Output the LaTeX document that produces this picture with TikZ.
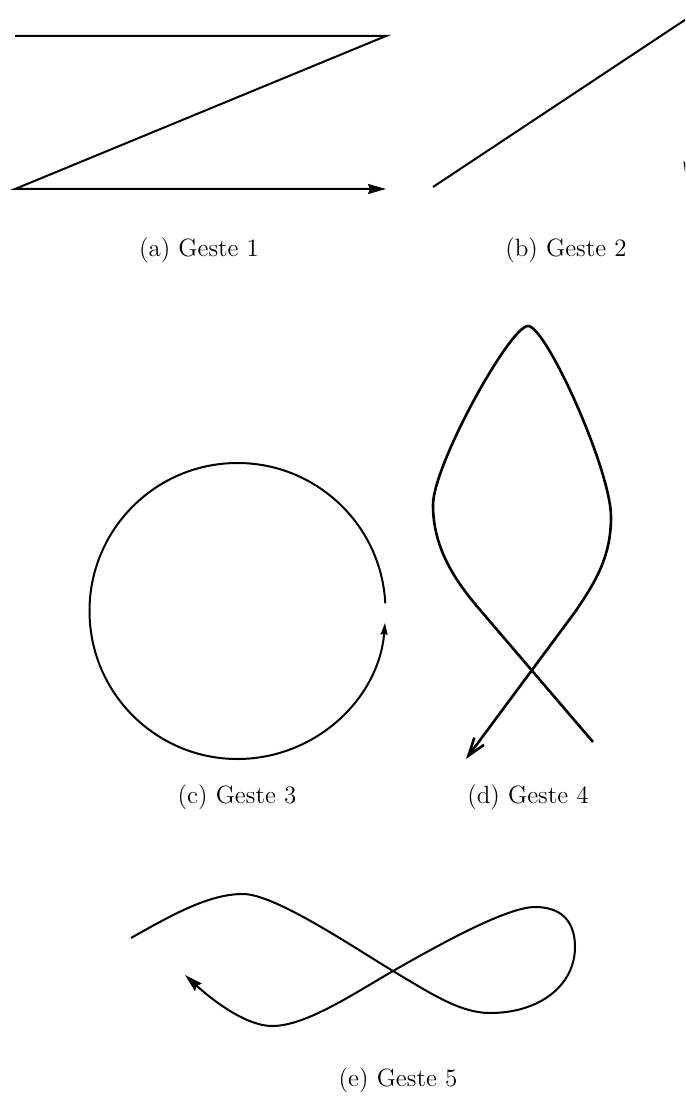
\documentclass[tikz,border=0pt]{standalone}
\usepackage{tikz}
\usetikzlibrary{arrows.meta}

\begin{document}
\begin{tikzpicture}[x=0.5pt, y=-0.5pt,
   geste/.style={line width=1pt},
   pointe/.style={-{Stealth[length=9pt, width=5pt, inset=1pt]}},
   petite/.style={-{Stealth[length=6pt, width=3.5pt, inset=0.8pt]}},
   barbe/.style={-{Straight Barb[length=9pt, width=6pt]}},
   legende/.style={font=\fontsize{12.5}{15}\selectfont, inner sep=0pt}]

  \useasboundingbox (0,0) rectangle (685,1101);

  % (a) zigzag
  \draw[geste, pointe] (15,36) -- (386,36) -- (15,189) -- (386,189);
  \node[legende] (la) at (199,250) {(a) Geste 1};

  % (b) only partly inside the page
  \begin{scope}
    \clip (0,0) rectangle (685,1101);
    \draw[geste, pointe] (433,187) -- (712,2) -- (686,180);
  \end{scope}
  \node[legende] (lb) at (566,250) {(b) Geste 2};

  % (c) circle
  \draw[geste, petite] (237.5,611) ++(-3:148) arc[start angle=-3, end angle=-355.4, radius=148];
  \node[legende] (lc) at (237,797) {(c) Geste 3};

  % (d) loop
  \draw[line width=1.3pt, barbe] (593,742) -- (481,611)
    .. controls (455,581) and (433,548) .. (433,505)
    .. controls (433,465) and (510,326) .. (528,326)
    .. controls (546,326) and (611,470) .. (611,517)
    .. controls (611,555) and (597,580) .. (575,612) -- (466,759);
  \node[legende] (ld) at (528,797) {(d) Geste 4};

  % (e) figure eight
  \draw[geste, pointe] (131,938)
    .. controls (175,913) and (210,894) .. (243,894)
    .. controls (275,894) and (353,947) .. (393,971)
    .. controls (430,993) and (460,1013) .. (490,1013)
    .. controls (540,1013) and (575,985) .. (575,947)
    .. controls (575,920) and (560,907) .. (535,907)
    .. controls (505,907) and (430,950) .. (393,971)
    .. controls (350,996) and (305,1026) .. (272,1026)
    .. controls (245,1026) and (210,998) .. (185,975);
  \node[legende] (le) at (398,1080) {(e) Geste 5};
\end{tikzpicture}
\end{document}
